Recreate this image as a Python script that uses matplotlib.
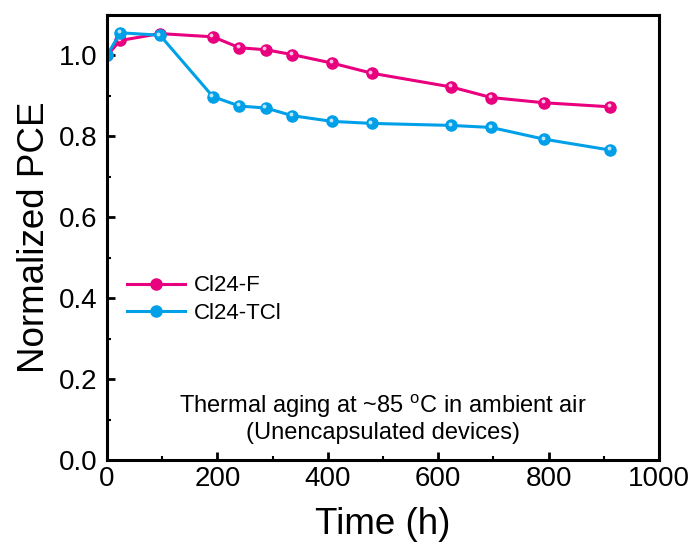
import matplotlib
matplotlib.use("Agg")
import matplotlib.pyplot as plt
import matplotlib.transforms as mtransforms
from matplotlib.ticker import MultipleLocator, FormatStrFormatter

plt.rcParams['font.family'] = ['Liberation Sans', 'DejaVu Sans']
plt.rcParams['mathtext.fontset'] = 'custom'
plt.rcParams['mathtext.rm'] = 'Liberation Sans'

# aging time (h) and normalized PCE
time_h = [0, 24, 96, 192, 240, 288, 336, 408, 480, 624, 696, 792, 912]
pce_f = [1.0, 1.037, 1.054, 1.046, 1.019, 1.014, 1.002, 0.981, 0.956, 0.922, 0.896, 0.883, 0.873]
pce_tcl = [1.0, 1.056, 1.050, 0.898, 0.875, 0.870, 0.851, 0.837, 0.832, 0.827, 0.822, 0.793, 0.766]

labels = ["Cl24-F", "Cl24-TCl"]
colors = ["#E8007F", "#00A0E9"]

fig = plt.figure(figsize=(6.97, 5.57), dpi=100)
ax = fig.add_axes([0.1535, 0.1741, 0.792, 0.799])

for y, lab, c in zip([pce_f, pce_tcl], labels, colors):
    ax.plot(time_h, y, '-o', color=c, lw=2.2, ms=8, mec=c, mfc=c, label=lab)
    # little glossy highlight on each marker
    tr = mtransforms.offset_copy(ax.transData, fig=fig, x=-1.2, y=1.2, units='points')
    ax.plot(time_h, y, 'o', ms=2.8, color='white', alpha=0.75, mew=0, transform=tr)

ax.set_xlim(0, 1000)
ax.set_ylim(0, 1.1)
ax.xaxis.set_major_locator(MultipleLocator(200))
ax.xaxis.set_minor_locator(MultipleLocator(100))
ax.yaxis.set_major_locator(MultipleLocator(0.2))
ax.yaxis.set_minor_locator(MultipleLocator(0.1))
ax.yaxis.set_major_formatter(FormatStrFormatter('%.1f'))

ax.tick_params(which='both', direction='in', top=False, right=False, labelsize=20)
ax.tick_params(which='major', length=6, width=2)
ax.tick_params(which='minor', length=3, width=1.5)
ax.tick_params(axis='x', which='major', pad=4.6)
ax.tick_params(axis='y', which='major', pad=7)
for s in ax.spines.values():
    s.set_linewidth(2.2)

ax.set_xlabel("Time (h)", fontsize=26.5, labelpad=10.5)
ax.set_ylabel("Normalized PCE", fontsize=26.5, labelpad=5)

ax.legend(loc='upper left', bbox_to_anchor=(0.0, 0.46), frameon=False,
          fontsize=16, handlelength=2.6, handletextpad=0.4, labelspacing=0.3)

ax.text(0.5, 0.094, "Thermal aging at ~85 $^{\\mathregular{o}}$C in ambient air\n(Unencapsulated devices)",
        transform=ax.transAxes, ha='center', va='center', fontsize=17, linespacing=1.1)

fig.savefig("out.png", dpi=100)
